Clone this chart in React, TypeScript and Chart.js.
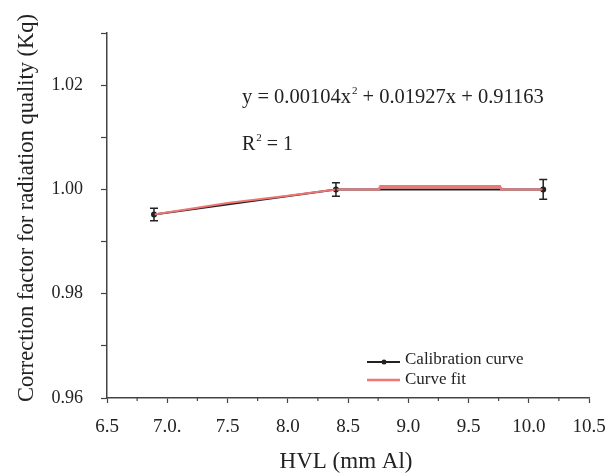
import React, { useEffect, useRef } from "react";
import { Chart, registerables } from "chart.js";

Chart.register(...registerables);

const hvl = [6.89, 8.4, 10.12];
const kq = [0.9952, 1.0, 1.0];
const kqErr = [0.0012, 0.0013, 0.0019];

const fitX = [6.89, 7.5, 8.0, 8.4, 8.76, 8.76, 9.77, 9.77, 10.12];
const fitY = [0.9952, 0.9974, 0.9988, 1.0, 1.0, 1.0005, 1.0005, 1.0, 1.0];

const xTickLabels: Record<string, string> = {
  "650": "6.5", "700": "7.0.", "750": "7.5", "800": "8.0", "850": "8.5",
  "900": "9.0", "950": "9.5", "1000": "10.0", "1050": "10.5",
};
const yTickLabels: Record<string, string> = {
  "96": "0.96", "98": "0.98", "100": "1.00", "102": "1.02",
};

const equationParts = ["y = 0.00104x", "2", " + 0.01927x + 0.91163"];
const rSquaredParts = ["R", "2", " = 1"];
const legendLabels = ["Calibration curve", "Curve fit"];
const xTitle = "HVL (mm Al)";
const yTitle = "Correction factor for radiation quality (Kq)";

const FONT = "'Liberation Serif', 'Times New Roman', serif";
const TEXT = "#222";
const BLACK = "#222";
const RED = "#f07575";

const decorPlugin = {
  id: "decor",
  afterDatasetsDraw(chart: any) {
    const { ctx, scales } = chart;
    const x = scales.x;
    const y = scales.y;
    ctx.save();
    ctx.strokeStyle = BLACK;
    ctx.lineWidth = 1.5;
    for (let i = 0; i < hvl.length; i++) {
      const px = x.getPixelForValue(hvl[i]);
      const top = y.getPixelForValue(kq[i] + kqErr[i]);
      const bot = y.getPixelForValue(kq[i] - kqErr[i]);
      ctx.beginPath();
      ctx.moveTo(px, top);
      ctx.lineTo(px, bot);
      ctx.moveTo(px - 4, top);
      ctx.lineTo(px + 4, top);
      ctx.moveTo(px - 4, bot);
      ctx.lineTo(px + 4, bot);
      ctx.stroke();
    }
    ctx.restore();
  },
  afterDraw(chart: any) {
    const { ctx, scales, chartArea } = chart;
    const x = scales.x;
    ctx.save();
    ctx.strokeStyle = "#444";
    ctx.lineWidth = 1.2;
    for (let v = 6.75; v < 10.5; v += 0.5) {
      const px = x.getPixelForValue(v);
      ctx.beginPath();
      ctx.moveTo(px, chartArea.bottom);
      ctx.lineTo(px, chartArea.bottom + 3);
      ctx.stroke();
    }
    ctx.fillStyle = TEXT;
    ctx.textBaseline = "middle";
    ctx.textAlign = "left";
    const drawSup = (parts: string[], sx: number, sy: number, size: number) => {
      let cx = sx;
      ctx.font = `${size}px ${FONT}`;
      ctx.fillText(parts[0], cx, sy);
      cx += ctx.measureText(parts[0]).width + 1;
      ctx.font = `${Math.round(size * 0.55)}px ${FONT}`;
      ctx.fillText(parts[1], cx, sy - size * 0.36);
      cx += ctx.measureText(parts[1]).width;
      ctx.font = `${size}px ${FONT}`;
      ctx.fillText(parts[2], cx, sy);
    };
    drawSup(equationParts, 242, 98, 20.5);
    drawSup(rSquaredParts, 242, 145, 20);

    ctx.lineWidth = 2;
    ctx.strokeStyle = BLACK;
    ctx.beginPath();
    ctx.moveTo(367, 362);
    ctx.lineTo(400, 362);
    ctx.stroke();
    ctx.fillStyle = BLACK;
    ctx.beginPath();
    ctx.arc(384, 362, 2.5, 0, Math.PI * 2);
    ctx.fill();
    ctx.strokeStyle = RED;
    ctx.lineWidth = 2.5;
    ctx.beginPath();
    ctx.moveTo(367, 380);
    ctx.lineTo(400, 380);
    ctx.stroke();
    ctx.fillStyle = TEXT;
    ctx.font = `17px ${FONT}`;
    ctx.fillText(legendLabels[0], 405, 360);
    ctx.fillText(legendLabels[1], 405, 380);

    ctx.textAlign = "center";
    ctx.font = `23px ${FONT}`;
    ctx.fillText(xTitle, 346, 462);
    ctx.translate(27, 208);
    ctx.rotate(-Math.PI / 2);
    ctx.font = `22.5px ${FONT}`;
    ctx.fillText(yTitle, 0, 0);
    ctx.restore();
  },
};

export default function App() {
  const ref = useRef<HTMLCanvasElement | null>(null);
  useEffect(() => {
    if (!ref.current) return;
    const chart = new Chart(ref.current, {
      type: "line",
      data: {
        datasets: [
          {
            label: legendLabels[0],
            data: hvl.map((v, i) => ({ x: v, y: kq[i] })),
            borderColor: BLACK,
            backgroundColor: BLACK,
            borderWidth: 2,
            pointRadius: 2,
            tension: 0,
            order: 2,
          },
          {
            label: legendLabels[1],
            data: fitX.map((v, i) => ({ x: v, y: fitY[i] })),
            borderColor: RED,
            borderWidth: 2,
            pointRadius: 0,
            tension: 0,
            order: 1,
            segment: {
              borderWidth: (c: any) => (c.p0DataIndex === 5 ? 3.5 : 2),
            },
          },
        ],
      },
      options: {
        responsive: false,
        animation: false,
        layout: { padding: { top: 33, right: 26, left: 0, bottom: 0 } },
        plugins: { legend: { display: false }, tooltip: { enabled: false } },
        scales: {
          x: {
            type: "linear",
            min: 6.5,
            max: 10.5,
            afterFit: (s: any) => { s.height = 76; s.paddingRight = 0; s.paddingLeft = 0; },
            border: { color: "#444", width: 1.5 },
            grid: {
              drawOnChartArea: false,
              tickLength: 5,
              tickWidth: 1.2,
              tickColor: "#444",
            },
            ticks: {
              stepSize: 0.5,
              padding: 13,
              color: TEXT,
              font: { family: FONT, size: 19 },
              callback: (v: any) => xTickLabels[String(Math.round(Number(v) * 100))] ?? "",
            },
          },
          y: {
            min: 0.96,
            max: 1.03,
            afterFit: (s: any) => { s.width = 107; s.paddingTop = 0; s.paddingBottom = 0; },
            border: { color: "#444", width: 1.5 },
            grid: {
              drawOnChartArea: false,
              tickLength: 6,
              tickWidth: 1.2,
              tickColor: "#444",
            },
            ticks: {
              stepSize: 0.01,
              padding: 18,
              color: TEXT,
              font: { family: FONT, size: 18 },
              callback: (v: any) => yTickLabels[String(Math.round(Number(v) * 100))] ?? "",
            },
          },
        },
      },
      plugins: [decorPlugin],
    });
    return () => chart.destroy();
  }, []);
  return (
    <div style={{ position: "fixed", left: 0, top: 0, width: 615, height: 474, background: "#fff" }}>
      <canvas ref={ref} width={615} height={474} style={{ display: "block" }} />
    </div>
  );
}
